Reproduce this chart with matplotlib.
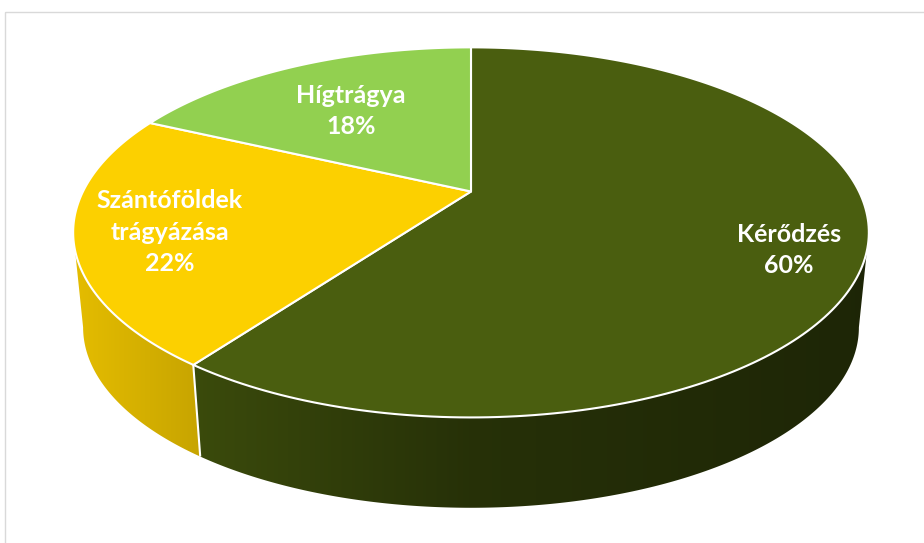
import matplotlib
matplotlib.use("Agg")
from matplotlib import pyplot as plt
from matplotlib.patches import Polygon, Rectangle
import numpy as np

# chart data
labels = ["Kérődzés", "Szántóföldek\ntrágyázása", "Hígtrágya"]
values = [60, 22, 18]
colors = ["#4a5e0f", "#fcd000", "#92d050"]

# 3D pie geometry in pixels (perspective-ish projection)
CX, CY = 471.0, 191.5
A, B = 388.0, 176.0
K = 0.221          # perspective factor
DEPTH = 96.0
BOT_SCALE = 0.975
label_xy = [(789, 250), (170, 232), (351, 111)]


def project(t_deg, r=1.0, bottom=False):
    t = np.radians(t_deg)
    X = r * np.cos(t)
    Z = r * np.sin(t)
    w = 1 + K * Z
    s, dy = (BOT_SCALE, DEPTH) if bottom else (1.0, 0.0)
    return CX + s * A * X / w, CY + dy - s * B * Z / w


fig = plt.figure(figsize=(9.24, 5.43), dpi=100)
ax = fig.add_axes([0, 0, 1, 1])
ax.set_xlim(0, 924)
ax.set_ylim(543, 0)
ax.axis("off")

# chart area border
ax.add_patch(Rectangle((4.5, 11.5), 940, 560, fill=False, edgecolor="#d9d9d9", lw=1))

# slice angles, starting at 12 o'clock going clockwise
total = float(sum(values))
starts, ends = [], []
angle = 90.0
for v in values:
    starts.append(angle)
    angle -= 360.0 * v / total
    ends.append(angle)

# visible part of the side wall lies between the two silhouette angles
sil = np.degrees(np.arcsin(K))
front_hi, front_lo = -sil, -180.0 + sil

# side walls with a left-to-right darkening gradient
xg = np.linspace(0, 924, 400)
fac = np.interp(xg, [70, 200, 470, 870], [0.91, 0.79, 0.52, 0.40])
for i, (a0, a1) in enumerate(zip(starts, ends)):
    lo, hi = max(a1, front_lo), min(a0, front_hi)
    if hi <= lo:
        continue
    ts = np.linspace(hi, lo, 200)
    xt, yt = project(ts)
    xb, yb = project(ts, bottom=True)
    pts = list(zip(xt, yt)) + list(zip(xb[::-1], yb[::-1]))
    wall = Polygon(pts, closed=True, facecolor="none", edgecolor="none")
    ax.add_patch(wall)
    rgb = np.array(matplotlib.colors.to_rgb(colors[i]))
    img = np.clip(fac[None, :, None] * rgb[None, None, :], 0, 1)
    im = ax.imshow(img, extent=[0, 924, 543, 0], aspect="auto",
                   interpolation="bilinear", zorder=1)
    im.set_clip_path(wall)
ax.set_xlim(0, 924)
ax.set_ylim(543, 0)

# white seams on the visible wall
for a in starts:
    if np.sin(np.radians(a)) < 0:
        xt, yt = project(a)
        xb, yb = project(a, bottom=True)
        ax.plot([xt, xb], [yt, yb], color="white", lw=1.5,
                solid_capstyle="butt", zorder=2)

# top faces
for i, (a0, a1) in enumerate(zip(starts, ends)):
    ts = np.linspace(a0, a1, 200)
    xs, ys = project(ts)
    pts = [(CX, CY)] + list(zip(xs, ys))
    ax.add_patch(Polygon(pts, closed=True, facecolor=colors[i], zorder=3,
                         edgecolor="white", lw=1.5, joinstyle="round"))

# labels
for i in range(len(values)):
    x, y = label_xy[i]
    pct = "{:.0f}%".format(100 * values[i] / total)
    ax.text(x, y, labels[i] + "\n" + pct, ha="center", va="center",
            color="white", fontsize=18, fontweight="bold", zorder=4,
            family=["Lato", "DejaVu Sans"], linespacing=1.47)

fig.savefig("out.png", dpi=100)
